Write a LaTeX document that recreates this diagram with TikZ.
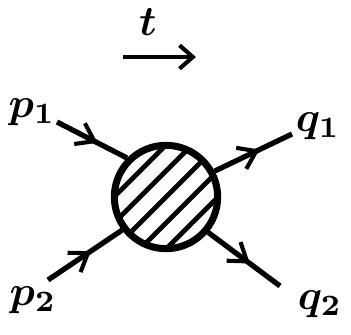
\documentclass[tikz,border=0pt]{standalone}
\usetikzlibrary{arrows.meta,decorations.markings,calc}

\newcommand{\biglbl}[1]{\scalebox{3.6}{\boldmath$#1$}}

\begin{document}
\begin{tikzpicture}[
        x=0.03cm, y=-0.03cm,
        >=Stealth,
        blob/.style={
            draw=black,
            circle,
            line width=6pt,
            minimum size=3.1cm,
            inner sep=0pt
        },
        leg/.style={
            draw=black,
            line width=4.5pt,
            postaction={decorate},
            decoration={markings,
                mark=at position 0.58 with {\arrow{Straight Barb[length=5mm,width=7mm,line width=3.5pt]}}}
        },
        hatch/.style={draw=black, line width=4pt}
    ]
        \useasboundingbox (0,0) rectangle (351,335);

        \node[blob] (vertex) at (166,197) {};

        \node[inner sep=0pt] (p1) at (32,112) {\biglbl{p_1}};
        \node[inner sep=0pt] (p2) at (33,300) {\biglbl{p_2}};
        \node[inner sep=0pt] (q1) at (318,126) {\biglbl{q_1}};
        \node[inner sep=0pt] (q2) at (320,304) {\biglbl{q_2}};
        \node[inner sep=0pt] (time) at (148,22) {\biglbl{t}};

        \coordinate (p1end) at (57,122);
        \coordinate (p2end) at (48,280);
        \coordinate (q1end) at (292,134);
        \coordinate (q2end) at (280,286);
        \coordinate (tstart) at (123,57);
        \coordinate (tstop) at (196,57);

        % shading inside the blob
        \begin{scope}
            \clip (vertex.center) circle (50);
            \foreach \d in {-52,-26,0,26,52} {
                \draw[hatch] ($(vertex.center)+(\d,0)+(-60,60)$) -- ($(vertex.center)+(\d,0)+(60,-60)$);
            }
        \end{scope}

        \draw[leg] (p1end) -- (vertex.135);
        \draw[leg] (p2end) -- (vertex.-143);
        \draw[leg] (vertex.28) -- (q1end);
        \draw[leg] (vertex.-40) -- (q2end);

        \draw[line width=3.5pt, -{Straight Barb[length=4mm,width=7mm,line width=3.5pt]}] (tstart) -- (tstop);
    \end{tikzpicture}
\end{document}
